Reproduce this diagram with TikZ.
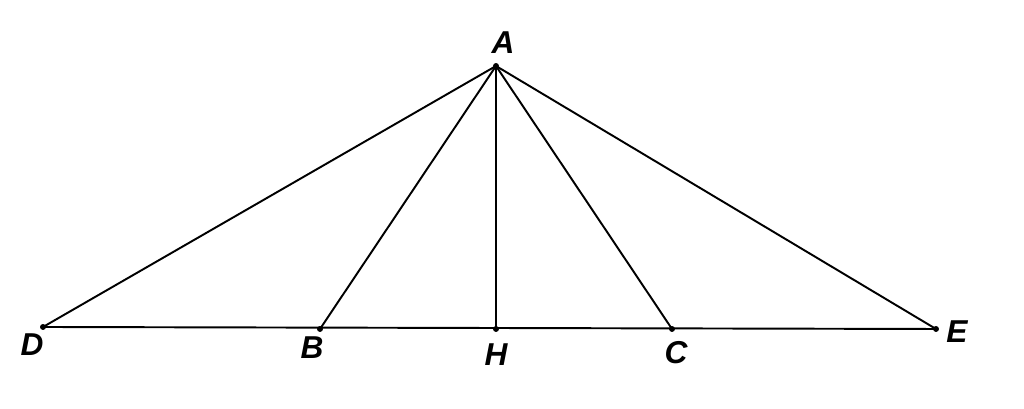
\documentclass[tikz,border=0pt]{standalone}
\usepackage{fontspec}
\setmainfont{Liberation Sans}
\begin{document}
\begin{tikzpicture}[pt/.style={circle,fill,inner sep=1.2pt},
	lbl/.style={font=\fontsize{18}{18}\selectfont\bfseries\itshape}]
					\useasboundingbox (0,0) rectangle (20.48,8.18);
					\node[pt] (A) at (9.92,6.86) {};
					\node[pt] (D) at (0.86,1.64) {};
					\node[pt] (B) at (6.40,1.60) {};
					\node[pt] (H) at (9.92,1.60) {};
					\node[pt] (C) at (13.44,1.60) {};
					\node[pt] (E) at (18.72,1.60) {};
					\draw[line width=1.1pt] (D.center) -- (E.center);
					\draw[line width=1.1pt] (A.center) -- (D.center);
					\draw[line width=1.1pt] (A.center) -- (B.center);
					\draw[line width=1.1pt] (A.center) -- (H.center);
					\draw[line width=1.1pt] (A.center) -- (C.center);
					\draw[line width=1.1pt] (A.center) -- (E.center);
					\node[lbl] (lA) at (10.06,7.32) {A};
					\node[lbl] (lD) at (0.64,1.28) {D};
					\node[lbl] (lB) at (6.24,1.22) {B};
					\node[lbl] (lH) at (9.92,1.08) {H};
					\node[lbl] (lC) at (13.52,1.12) {C};
					\node[lbl] (lE) at (19.14,1.54) {E};
				\end{tikzpicture}
\end{document}
